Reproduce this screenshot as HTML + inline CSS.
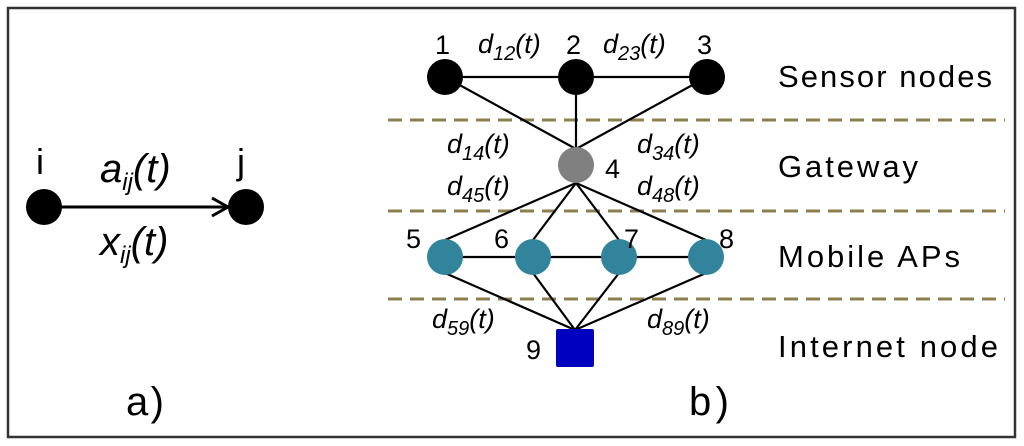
<!DOCTYPE html>
<html><head><meta charset="utf-8"><style>
html,body{margin:0;padding:0;background:#fff}
svg{display:block}
text{font-family:"Liberation Sans",sans-serif;fill:#000}
.it{font-style:italic}
</style></head><body>
<svg width="1024" height="446" viewBox="0 0 1024 446" xmlns="http://www.w3.org/2000/svg">
<rect x="8" y="8" width="1007" height="429" fill="#fff" stroke="#333" stroke-width="2.5"/>
<!-- panel a -->
<line x1="60" y1="207" x2="226" y2="207" stroke="#000" stroke-width="3"/>
<polyline points="212,198 228,207 212,216" fill="none" stroke="#000" stroke-width="3"/>
<circle cx="44" cy="207" r="18" fill="#000"/>
<circle cx="246" cy="207" r="18" fill="#000"/>
<text x="36" y="174" style="font-size:36px">i</text>
<text x="237" y="174" style="font-size:36px">j</text>
<text x="100" y="182" class="it" style="font-size:40px">a<tspan style="font-size:24px" dy="8">ij</tspan><tspan dy="-8">(t)</tspan></text>
<text x="100" y="255" class="it" style="font-size:40px">x<tspan style="font-size:24px" dy="8">ij</tspan><tspan dy="-8">(t)</tspan></text>
<text x="126" y="415" style="font-size:40px" textLength="38">a)</text>
<text x="689" y="415" style="font-size:40px" textLength="40">b)</text>
<!-- dashed lines -->
<g stroke="#8c7f4e" stroke-width="3" stroke-dasharray="14,8">
<line x1="388" y1="120" x2="1005" y2="120"/>
<line x1="388" y1="211" x2="1005" y2="211"/>
<line x1="388" y1="299" x2="1005" y2="299"/>
</g>
<!-- edges -->
<g stroke="#000" stroke-width="2.2">
<line x1="445" y1="77" x2="707" y2="77"/>
<line x1="445" y1="77" x2="576" y2="149"/>
<line x1="576" y1="77" x2="576" y2="149"/>
<line x1="707" y1="77" x2="576" y2="149"/>
<line x1="576" y1="183" x2="445" y2="240"/>
<line x1="576" y1="183" x2="533" y2="240"/>
<line x1="576" y1="183" x2="619" y2="240"/>
<line x1="576" y1="183" x2="706" y2="240"/>
<line x1="445" y1="257" x2="706" y2="257"/>
<line x1="445" y1="273" x2="575" y2="330"/>
<line x1="533" y1="273" x2="575" y2="330"/>
<line x1="619" y1="273" x2="575" y2="330"/>
<line x1="706" y1="273" x2="575" y2="330"/>
</g>
<circle cx="445" cy="77" r="18" fill="#000"/>
<circle cx="576" cy="77" r="18" fill="#000"/>
<circle cx="707" cy="77" r="18" fill="#000"/>
<circle cx="576" cy="165" r="18" fill="#808080"/>
<g fill="#31849b">
<circle cx="445" cy="257" r="18"/><circle cx="533" cy="257" r="18"/>
<circle cx="619" cy="257" r="18"/><circle cx="706" cy="257" r="18"/>
</g>
<rect x="556" y="329" width="38" height="38" rx="2" fill="#0000c0"/>
<!-- node numbers -->
<g style="font-size:27px">
<text x="435" y="54">1</text><text x="566" y="54">2</text><text x="697" y="54">3</text>
<text x="605" y="178">4</text>
<text x="406" y="248">5</text><text x="494" y="248">6</text><text x="624" y="248">7</text><text x="719" y="248">8</text>
<text x="526" y="359">9</text>
</g>
<!-- edge labels -->
<g class="it" style="font-size:27px">
<text x="478" y="53">d<tspan style="font-size:20px" dy="7">12</tspan><tspan dy="-7">(t)</tspan></text>
<text x="603" y="53">d<tspan style="font-size:20px" dy="7">23</tspan><tspan dy="-7">(t)</tspan></text>
<text x="447" y="153">d<tspan style="font-size:20px" dy="7">14</tspan><tspan dy="-7">(t)</tspan></text>
<text x="637" y="153">d<tspan style="font-size:20px" dy="7">34</tspan><tspan dy="-7">(t)</tspan></text>
<text x="447" y="195">d<tspan style="font-size:20px" dy="7">45</tspan><tspan dy="-7">(t)</tspan></text>
<text x="637" y="195">d<tspan style="font-size:20px" dy="7">48</tspan><tspan dy="-7">(t)</tspan></text>
<text x="432" y="328">d<tspan style="font-size:20px" dy="7">59</tspan><tspan dy="-7">(t)</tspan></text>
<text x="647" y="328">d<tspan style="font-size:20px" dy="7">89</tspan><tspan dy="-7">(t)</tspan></text>
</g>
<!-- layer labels -->
<g style="font-size:31px">
<text x="778" y="87" textLength="214">Sensor nodes</text>
<text x="778" y="177" textLength="140">Gateway</text>
<text x="778" y="267" textLength="182">Mobile APs</text>
<text x="778" y="357" textLength="220">Internet node</text>
</g>
</svg>
</body></html>
